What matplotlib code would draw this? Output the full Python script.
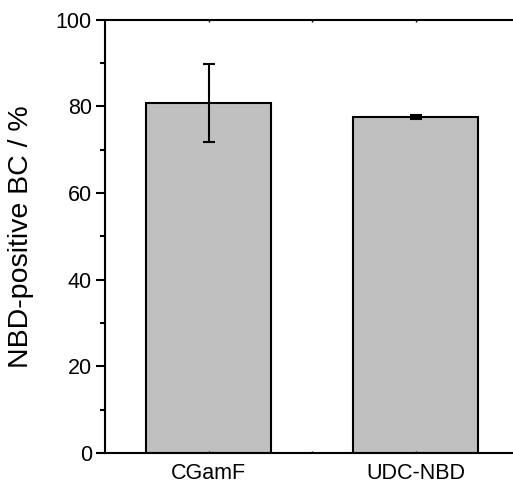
import numpy as np
import matplotlib
matplotlib.use("Agg")
import matplotlib.pyplot as plt

plt.rcParams['font.family'] = ['Liberation Sans', 'DejaVu Sans']

# datos
categories = ['CGamF', 'UDC-NBD']
values = [80.85, 77.6]
errors = [9.0, 0.45]
positions = [1, 3]

fig = plt.figure(figsize=(5.13, 4.84), dpi=100)
ax = fig.add_axes([0.2047, 0.064, 0.807, 0.8953])

ax.bar(positions, values, width=1.2, color='#c0c0c0', edgecolor='black', linewidth=1.5)
ax.errorbar(positions, values, yerr=errors, fmt='none', ecolor='black',
            elinewidth=1.5, capsize=4.5, capthick=1.5)

ax.set_xlim(0, 4)
ax.set_ylim(0, 100)
ax.set_yticks(np.arange(0, 101, 20))
ax.set_yticks(np.arange(10, 100, 20), minor=True)
ax.set_xticks(positions)
ax.set_xticklabels(categories)
ax.set_xticks([2], minor=True)

for s in ax.spines.values():
    s.set_linewidth(1.5)
ax.spines['right'].set_visible(False)

ax.tick_params(axis='y', which='major', direction='out', length=6.5, width=1.5, labelsize=15.5, pad=3)
ax.tick_params(axis='y', which='minor', direction='out', length=3.6, width=1.5)
ax.tick_params(axis='x', which='both', direction='in', length=1.5, width=1, labelsize=15.5, pad=7.5,
               top=True)

ax.set_ylabel('NBD-positive BC / %', fontsize=20.5)
ax.yaxis.set_label_coords(-0.172, 0.5)

fig.savefig('out.png', dpi=100)
